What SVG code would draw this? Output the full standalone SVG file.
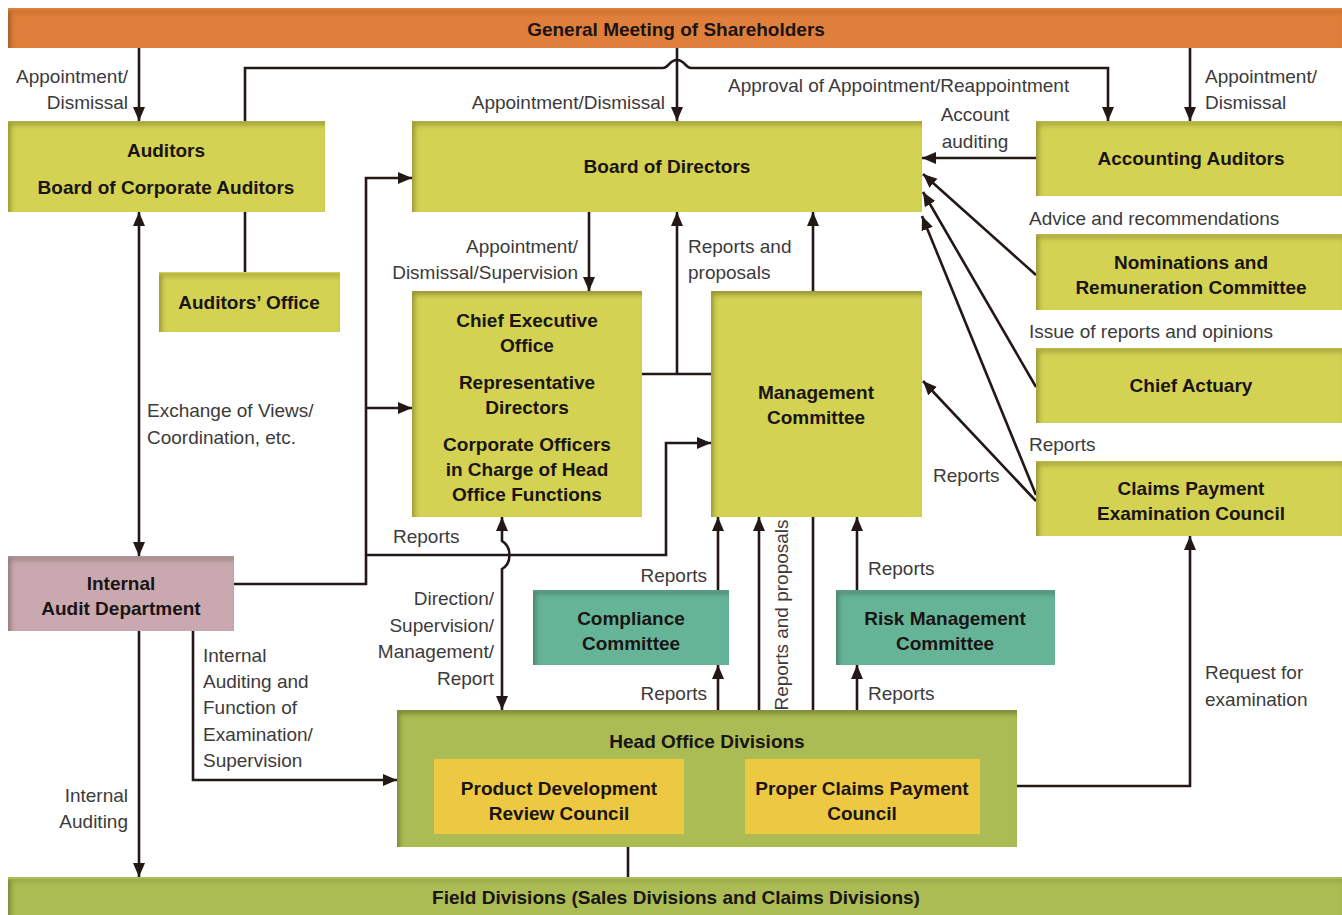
<svg xmlns="http://www.w3.org/2000/svg" width="1342" height="915" viewBox="0 0 1342 915">
<style>
.lbl{font-family:"Liberation Sans",Arial,sans-serif;font-size:19px;fill:#3c3a3a}
.bt{font-family:"Liberation Sans",Arial,sans-serif;font-size:19px;font-weight:bold;fill:#1a1414;text-anchor:middle}
.r{text-anchor:end}
.m{text-anchor:middle}
.ln{fill:none;stroke:#231815;stroke-width:2.6}
.ar{marker-end:url(#ah)}
.dbl{marker-end:url(#ah);marker-start:url(#ah)}
.yg{fill:#D3D253}
.hd{fill:#AABC52}
.pd{fill:#EDC843}
.tl{fill:#66B497}
.pk{fill:#C9A9AF}
.or{fill:#E07F3B}
.box{filter:url(#inset)}
</style>
<defs>
<marker id="ah" markerUnits="userSpaceOnUse" markerWidth="15" markerHeight="13" refX="14" refY="6" orient="auto-start-reverse">
<path d="M0,0 L14,6 L0,12 z" fill="#231815"/>
</marker>
<filter id="inset" x="-5%" y="-5%" width="110%" height="110%">
<feComponentTransfer in="SourceAlpha"><feFuncA type="table" tableValues="1 0"/></feComponentTransfer>
<feGaussianBlur stdDeviation="2.5"/>
<feOffset dx="3" dy="3.5" result="ob"/>
<feFlood flood-color="#2a2a00" flood-opacity="0.55"/>
<feComposite in2="ob" operator="in"/>
<feComposite in2="SourceAlpha" operator="in" result="sh"/>
<feMerge><feMergeNode in="SourceGraphic"/><feMergeNode in="sh"/></feMerge>
</filter>
</defs>

<g id="connectors">
<path class="ln ar" d="M139,48 V121"/>
<path class="ln ar" d="M677,48 V121"/>
<path class="ln ar" d="M1190,48 V121"/>
<path class="ln ar" d="M245,121 V68 H663 C669,68 669,60 677,60 C685,60 685,68 691,68 H1108 V121"/>
<path class="ln ar" d="M1036,158 H922"/>
<path class="ln" d="M245,212 V272"/>
<path class="ln dbl" d="M139,212 V556"/>
<path class="ln ar" d="M234,584 H366 V178 H412"/>
<path class="ln ar" d="M366,408 H412"/>
<path class="ln ar" d="M366,555 H666 V443 H711"/>
<path class="ln ar" d="M589,212 V291"/>
<path class="ln" d="M642,374 H711"/>
<path class="ln ar" d="M677,374 V212"/>
<path class="ln ar" d="M813,291 V212"/>
<path class="ln ar" d="M1036,275 L923,174"/>
<path class="ln ar" d="M1036,387 L923,192"/>
<path class="ln ar" d="M1036,495 L922,216"/>
<path class="ln ar" d="M1036,501 L923,381"/>
<path class="ln dbl" d="M502,517 V541 C512,547 512,563 502,569 V710"/>
<path class="ln ar" d="M718,590 V517"/>
<path class="ln ar" d="M718,710 V665"/>
<path class="ln ar" d="M759,710 V517"/>
<path class="ln" d="M813,517 V710"/>
<path class="ln ar" d="M857,590 V517"/>
<path class="ln ar" d="M857,710 V665"/>
<path class="ln ar" d="M1017,786 H1190 V536"/>
<path class="ln ar" d="M193,631 V780 H397"/>
<path class="ln ar" d="M139,631 V877"/>
<path class="ln" d="M628,847 V877"/>
</g>

<g id="labels">
<text class="lbl r" x="128" y="83">Appointment/</text>
<text class="lbl r" x="128" y="109">Dismissal</text>
<text class="lbl r" x="665" y="109">Appointment/Dismissal</text>
<text class="lbl" x="728" y="92">Approval of Appointment/Reappointment</text>
<text class="lbl" x="1205" y="83">Appointment/</text>
<text class="lbl" x="1205" y="109">Dismissal</text>
<text class="lbl m" x="975" y="121">Account</text>
<text class="lbl m" x="975" y="148">auditing</text>
<text class="lbl" x="1029" y="225">Advice and recommendations</text>
<text class="lbl" x="1029" y="338">Issue of reports and opinions</text>
<text class="lbl" x="1029" y="451">Reports</text>
<text class="lbl" x="933" y="482">Reports</text>
<text class="lbl r" x="578" y="253">Appointment/</text>
<text class="lbl r" x="578" y="279">Dismissal/Supervision</text>
<text class="lbl" x="688" y="253">Reports and</text>
<text class="lbl" x="688" y="279">proposals</text>
<text class="lbl" x="147" y="417">Exchange of Views/</text>
<text class="lbl" x="147" y="444">Coordination, etc.</text>
<text class="lbl" x="393" y="543">Reports</text>
<text class="lbl r" x="494" y="605">Direction/</text>
<text class="lbl r" x="494" y="632">Supervision/</text>
<text class="lbl r" x="494" y="658">Management/</text>
<text class="lbl r" x="494" y="685">Report</text>
<text class="lbl r" x="707" y="582">Reports</text>
<text class="lbl r" x="707" y="700">Reports</text>
<text class="lbl m" x="788" y="615" transform="rotate(-90 788 615)">Reports and proposals</text>
<text class="lbl" x="868" y="575">Reports</text>
<text class="lbl" x="868" y="700">Reports</text>
<text class="lbl" x="1205" y="679">Request for</text>
<text class="lbl" x="1205" y="706">examination</text>
<text class="lbl" x="203" y="662">Internal</text>
<text class="lbl" x="203" y="688">Auditing and</text>
<text class="lbl" x="203" y="714">Function of</text>
<text class="lbl" x="203" y="741">Examination/</text>
<text class="lbl" x="203" y="767">Supervision</text>
<text class="lbl r" x="128" y="802">Internal</text>
<text class="lbl r" x="128" y="828">Auditing</text>
</g>

<g id="general-meeting"><rect class="or box" x="8" y="8" width="1334" height="40"/><text class="bt" x="676" y="36">General Meeting of Shareholders</text></g>
<g id="auditors"><rect class="yg box" x="8" y="121" width="317" height="91"/><text class="bt" x="166" y="157">Auditors</text><text class="bt" x="166" y="194">Board of Corporate Auditors</text></g>
<g id="auditors-office"><rect class="yg box" x="159" y="272" width="181" height="60"/><text class="bt" x="249" y="309">Auditors’ Office</text></g>
<g id="board"><rect class="yg box" x="412" y="121" width="510" height="91"/><text class="bt" x="667" y="173">Board of Directors</text></g>
<g id="accounting-auditors"><rect class="yg box" x="1036" y="121" width="306" height="75"/><text class="bt" x="1191" y="165">Accounting Auditors</text></g>
<g id="nominations"><rect class="yg box" x="1036" y="234" width="306" height="76"/><text class="bt" x="1191" y="269">Nominations and</text><text class="bt" x="1191" y="294">Remuneration Committee</text></g>
<g id="chief-actuary"><rect class="yg box" x="1036" y="348" width="306" height="75"/><text class="bt" x="1191" y="392">Chief Actuary</text></g>
<g id="claims-council"><rect class="yg box" x="1036" y="461" width="306" height="75"/><text class="bt" x="1191" y="495">Claims Payment</text><text class="bt" x="1191" y="520">Examination Council</text></g>
<g id="ceo"><rect class="yg box" x="412" y="291" width="230" height="226"/>
<text class="bt" x="527" y="327">Chief Executive</text><text class="bt" x="527" y="352">Office</text>
<text class="bt" x="527" y="389">Representative</text><text class="bt" x="527" y="414">Directors</text>
<text class="bt" x="527" y="451">Corporate Officers</text><text class="bt" x="527" y="476">in Charge of Head</text><text class="bt" x="527" y="501">Office Functions</text></g>
<g id="management"><rect class="yg box" x="711" y="291" width="211" height="226"/><text class="bt" x="816" y="399">Management</text><text class="bt" x="816" y="424">Committee</text></g>
<g id="internal-audit"><rect class="pk box" x="8" y="556" width="226" height="75"/><text class="bt" x="121" y="590">Internal</text><text class="bt" x="121" y="615">Audit Department</text></g>
<g id="compliance"><rect class="tl box" x="533" y="590" width="196" height="75"/><text class="bt" x="631" y="625">Compliance</text><text class="bt" x="631" y="650">Committee</text></g>
<g id="risk"><rect class="tl box" x="836" y="590" width="219" height="75"/><text class="bt" x="945" y="625">Risk Management</text><text class="bt" x="945" y="650">Committee</text></g>
<g id="head-office"><rect class="hd box" x="397" y="710" width="620" height="137"/><text class="bt" x="707" y="748">Head Office Divisions</text></g>
<g id="product-dev"><rect class="pd" x="434" y="759" width="250" height="75"/><text class="bt" x="559" y="795">Product Development</text><text class="bt" x="559" y="820">Review Council</text></g>
<g id="proper-claims"><rect class="pd" x="745" y="759" width="235" height="75"/><text class="bt" x="862" y="795">Proper Claims Payment</text><text class="bt" x="862" y="820">Council</text></g>
<g id="field"><rect class="hd box" x="8" y="877" width="1334" height="40"/><text class="bt" x="676" y="904">Field Divisions (Sales Divisions and Claims Divisions)</text></g>
</svg>
